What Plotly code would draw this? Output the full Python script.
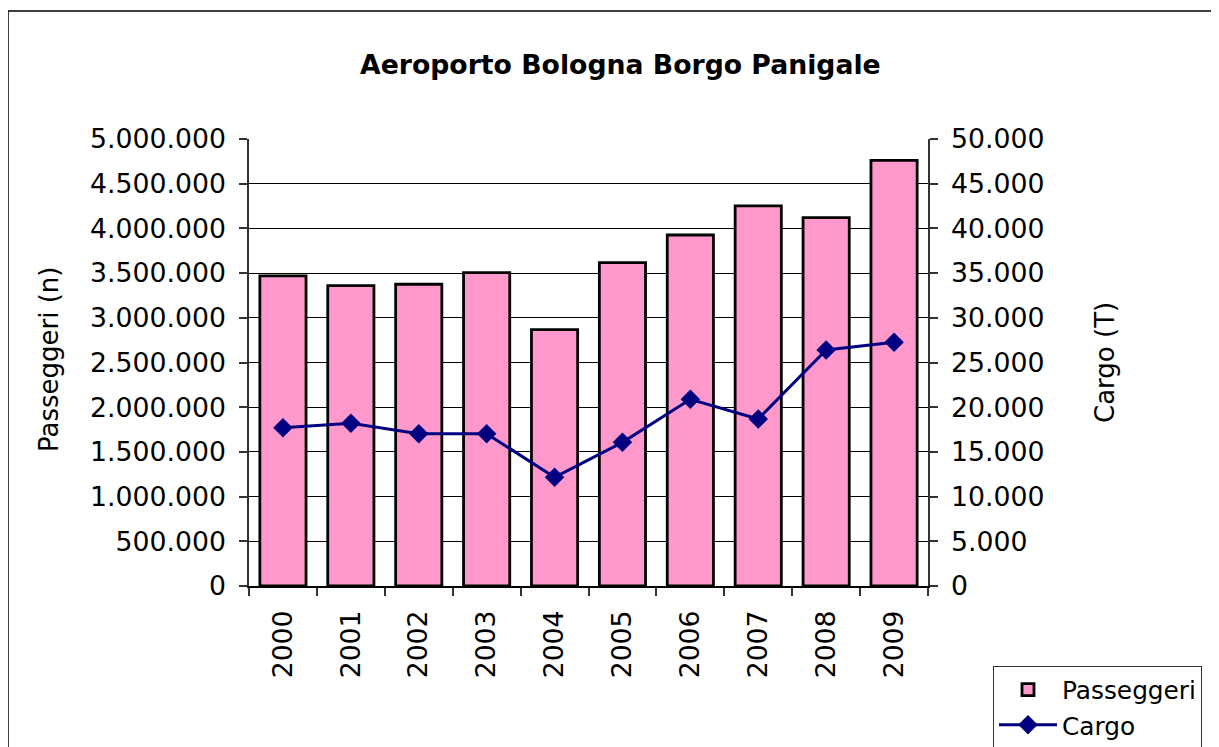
import plotly.graph_objects as go

years = ["2000", "2001", "2002", "2003", "2004", "2005", "2006", "2007", "2008", "2009"]
passeggeri = [3468000, 3360000, 3375000, 3505000, 2868000, 3617000, 3926000, 4251000, 4120000, 4762000]
cargo = [17710, 18200, 17040, 17040, 12160, 16070, 20880, 18680, 26400, 27260]

left_ticks = list(range(0, 5000001, 500000))
right_ticks = list(range(0, 50001, 5000))

FONT = "DejaVu Sans, Verdana, sans-serif"

OFF = 8  # default page body margin
W, H = 1219 - OFF, 747 - OFF
# plot area in reference page pixels
L, R, T, B = 249, 928, 139, 586
pw, ph = R - L, B - T

def px(x):
    return (x - L) / pw

def py(y):
    return (B - y) / ph

fig = go.Figure()
fig.add_trace(go.Bar(
    x=years, y=passeggeri, name="Passeggeri",
    marker=dict(color="#FF99CC", line=dict(color="black", width=2.8)),
))
fig.add_trace(go.Scatter(
    x=years, y=cargo, name="Cargo", yaxis="y2", mode="lines+markers",
    line=dict(color="#000080", width=3),
    marker=dict(symbol="diamond", size=15, color="#000080"),
))

fig.update_layout(
    width=W, height=H,
    margin=dict(l=L - OFF, r=W - (R - OFF), t=T - OFF, b=H - (B - OFF), pad=0, autoexpand=False),
    paper_bgcolor="white", plot_bgcolor="white",
    font=dict(family=FONT, size=26.7, color="black"),
    separators=",.",
    bargap=0.32,
    showlegend=True,
    legend=dict(
        x=px(993), y=py(666), xanchor="left", yanchor="top",
        bordercolor="#333", borderwidth=1, bgcolor="white",
        font=dict(size=24.8), tracegroupgap=0, itemwidth=58,
    ),
    xaxis=dict(
        type="category", range=[-0.5, len(years) - 0.5], autorange=False,
        tickangle=-90, tickson="boundaries",
        ticks="outside", ticklen=8, tickcolor="#333", tickwidth=1.5,
        showline=True, linecolor="black", linewidth=1.5,
        showgrid=False, ticklabelstandoff=12,
    ),
    yaxis=dict(
        range=[0, 5000000], tickvals=left_ticks, tickformat=",d",
        ticks="outside", ticklen=8, tickcolor="#333", tickwidth=1.5,
        showline=True, linecolor="#333", linewidth=1.5,
        showgrid=True, gridcolor="black", gridwidth=1,
        zeroline=False, ticklabelstandoff=8,
    ),
    yaxis2=dict(
        overlaying="y", side="right",
        range=[0, 50000], tickvals=right_ticks, tickformat=",d",
        ticks="outside", ticklen=8, tickcolor="#333", tickwidth=1.5,
        showline=True, linecolor="#333", linewidth=1.5,
        showgrid=False, zeroline=False, ticklabelstandoff=8,
    ),
    annotations=[
        dict(text="<b>Aeroporto Bologna Borgo Panigale</b>", xref="paper", yref="paper",
             x=px(620), y=py(65), xanchor="center", yanchor="middle",
             showarrow=False, font=dict(size=26.7)),
        dict(text="Passeggeri (n)", xref="paper", yref="paper",
             x=px(49), y=py(360), xanchor="center", yanchor="middle",
             textangle=-90, showarrow=False, font=dict(size=26)),
        dict(text="Cargo (T)", xref="paper", yref="paper",
             x=px(1105), y=py(363), xanchor="center", yanchor="middle",
             textangle=-90, showarrow=False, font=dict(size=26)),
    ],
    shapes=[
        dict(type="rect", xref="paper", yref="paper",
             x0=px(8), y0=py(11), x1=px(1240), y1=py(770),
             line=dict(color="black", width=1.5), fillcolor="rgba(0,0,0,0)", layer="below"),
    ],
)

fig.write_html("out.html")
